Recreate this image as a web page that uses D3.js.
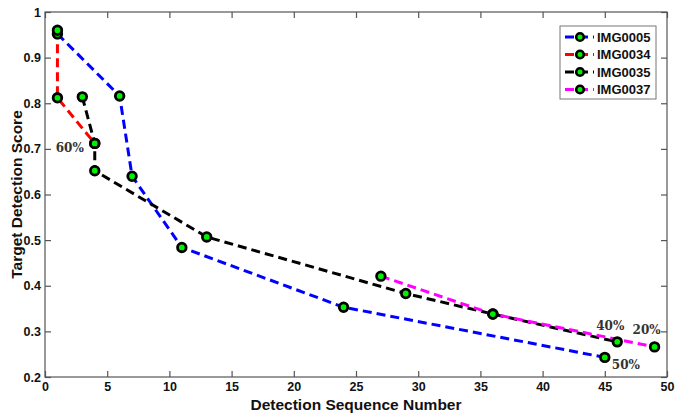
<!DOCTYPE html>
<html>
<head>
<meta charset="utf-8">
<script src="https://cdn.jsdelivr.net/npm/d3@7"></script>
<style>
body { margin: 0; background: #fff; }
svg text { font-family: Arial, "Liberation Sans", sans-serif; }
</style>
</head>
<body>
<svg id="chart" width="675" height="415"></svg>
<script>
// values
let seriesNames = ["IMG0005", "IMG0034", "IMG0035", "IMG0037"];
let seriesColors = ["#0000ff", "#ff0000", "#000000", "#ff00ff"];

let img0005 = [[1, 0.952], [6, 0.816], [7, 0.64], [11, 0.484], [24, 0.353], [45, 0.243]];
let img0034 = [[1, 0.96], [1, 0.812], [4, 0.712]];
let img0035 = [[3, 0.814], [4, 0.712], [4, 0.652], [13, 0.507], [29, 0.383], [36, 0.338], [46, 0.277]];
let img0037 = [[27, 0.421], [36, 0.338], [49, 0.266]];

let xTicks = [0, 5, 10, 15, 20, 25, 30, 35, 40, 45, 50];
let yTicks = [0.2, 0.3, 0.4, 0.5, 0.6, 0.7, 0.8, 0.9, 1];

let notes = [
    { text: "60%", x: 4, y: 0.7, dx: -39, dy: 3 },
    { text: "40%", x: 46, y: 0.277, dx: -21, dy: -12 },
    { text: "20%", x: 49, y: 0.266, dx: -22, dy: -13 },
    { text: "50%", x: 45, y: 0.243, dx: 7, dy: 12 }
];

let svg = d3.select("#chart");
let plotLeft = 45, plotRight = 667, plotTop = 12, plotBottom = 377;

let xScale = d3.scaleLinear().domain([0, 50]).range([plotLeft, plotRight]);
let yScale = d3.scaleLinear().domain([0.2, 1]).range([plotBottom, plotTop]);

let axisColor = "#555";

// box frame
svg.append("rect")
    .attr("x", plotLeft).attr("y", plotTop)
    .attr("width", plotRight - plotLeft).attr("height", plotBottom - plotTop)
    .attr("fill", "none").attr("stroke", axisColor).attr("stroke-width", 1.2);

function styleAxis(g) {
    g.select(".domain").remove();
    g.selectAll(".tick line").attr("stroke", axisColor).attr("stroke-width", 1.2);
    g.selectAll("text")
        .attr("fill", "#111")
        .attr("font-size", "12.5px")
        .attr("font-weight", "bold")
        .style("font-family", "Arial, 'Liberation Sans', sans-serif");
}

// inward ticks on all four sides
svg.append("g")
    .attr("transform", "translate(0," + plotBottom + ")")
    .call(d3.axisBottom(xScale).tickValues(xTicks).tickSize(-6).tickPadding(5).tickFormat(d3.format("d")))
    .call(styleAxis);
svg.append("g")
    .attr("transform", "translate(0," + plotTop + ")")
    .call(d3.axisTop(xScale).tickValues(xTicks).tickSize(-6).tickFormat(""))
    .call(styleAxis);
svg.append("g")
    .attr("transform", "translate(" + plotLeft + ",0)")
    .call(d3.axisLeft(yScale).tickValues(yTicks).tickSize(-6).tickPadding(4).tickFormat((d) => d === 1 ? "1" : d3.format(".1f")(d)))
    .call(styleAxis);
svg.append("g")
    .attr("transform", "translate(" + plotRight + ",0)")
    .call(d3.axisRight(yScale).tickValues(yTicks).tickSize(-6).tickFormat(""))
    .call(styleAxis);

// axis titles
svg.append("text")
    .attr("x", (plotLeft + plotRight) / 2)
    .attr("y", 410)
    .attr("text-anchor", "middle")
    .attr("font-size", "15.5px")
    .attr("font-weight", "bold")
    .attr("fill", "#111")
    .text("Detection Sequence Number");

svg.append("text")
    .attr("transform", "translate(22," + (plotTop + plotBottom) / 2 + ") rotate(-90)")
    .attr("text-anchor", "middle")
    .attr("font-size", "15.5px")
    .attr("font-weight", "bold")
    .attr("fill", "#111")
    .text("Target Detection Score");

let allSeries = [img0005, img0034, img0035, img0037];

let lineMaker = d3.line()
    .x((d) => xScale(d[0]))
    .y((d) => yScale(d[1]));

allSeries.forEach(function (data, i) {
    svg.append("path")
        .attr("d", lineMaker(data))
        .attr("fill", "none")
        .attr("stroke", seriesColors[i])
        .attr("stroke-width", 3)
        .attr("stroke-dasharray", "9,5");
});

allSeries.forEach(function (data) {
    svg.selectAll(null)
        .data(data)
        .enter()
        .append("circle")
        .attr("cx", (d) => xScale(d[0]))
        .attr("cy", (d) => yScale(d[1]))
        .attr("r", 4.3)
        .attr("fill", "#00f000")
        .attr("stroke", "#000")
        .attr("stroke-width", 2.8);
});

// percentage notes
svg.selectAll(".note")
    .data(notes)
    .enter()
    .append("text")
    .attr("class", "note")
    .attr("x", (d) => xScale(d.x) + d.dx)
    .attr("y", (d) => yScale(d.y) + d.dy)
    .attr("font-size", "12px")
    .attr("font-weight", "bold")
    .attr("fill", "#333")
    .style("font-family", "'DejaVu Serif', 'Liberation Serif', serif")
    .text((d) => d.text);

// legend
let legend = svg.append("g").attr("transform", "translate(560,26)");
legend.append("rect")
    .attr("width", 96).attr("height", 73)
    .attr("fill", "#fff").attr("stroke", "#777").attr("stroke-width", 1);

seriesNames.forEach(function (name, i) {
    let y = 11 + i * 17.5;
    legend.append("line")
        .attr("x1", 5).attr("x2", 34)
        .attr("y1", y).attr("y2", y)
        .attr("stroke", seriesColors[i])
        .attr("stroke-width", 3)
        .attr("stroke-dasharray", "9,5");
    legend.append("circle")
        .attr("cx", 20).attr("cy", y).attr("r", 3.8)
        .attr("fill", "#00f000").attr("stroke", "#000").attr("stroke-width", 2.6);
    legend.append("text")
        .attr("x", 37).attr("y", y + 4.5)
        .attr("font-size", "13px")
        .attr("font-weight", "bold")
        .attr("fill", "#111")
        .text(name);
});
</script>
</body>
</html>
